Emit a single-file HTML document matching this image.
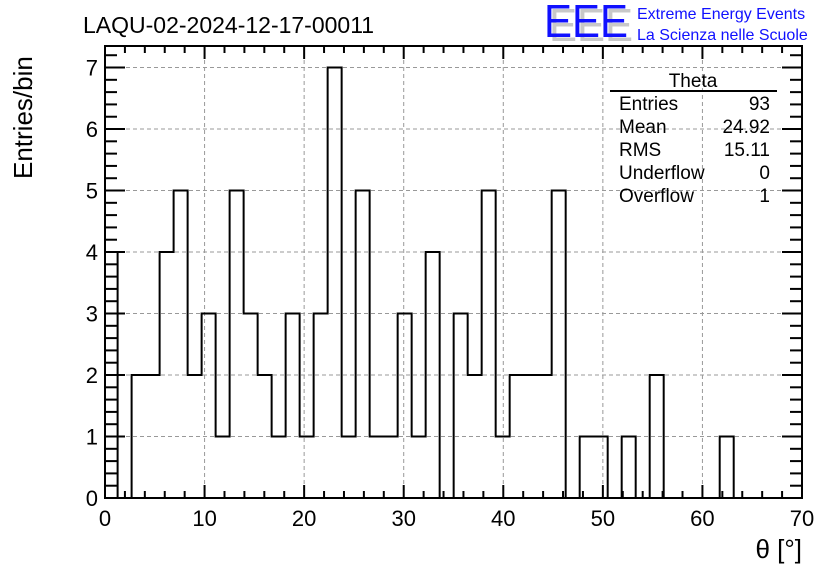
<!DOCTYPE html>
<html><head><meta charset="utf-8"><style>
body{margin:0;background:#fff;}
svg{display:block;font-family:"Liberation Sans",sans-serif;}
</style></head><body>
<svg id="chart" width="836" height="572" xmlns="http://www.w3.org/2000/svg">
<rect width="836" height="572" fill="#fff"/>
<text x="83" y="33" font-size="23">LAQU-02-2024-12-17-00011</text>
<g>
<text x="549" y="41" font-size="46" fill="#c8c8c8" textLength="84" lengthAdjust="spacingAndGlyphs">EEE</text>
<text x="544" y="37" font-size="46" fill="#1010ff" textLength="84" lengthAdjust="spacingAndGlyphs">EEE</text>
<text x="637" y="19" font-size="16" fill="#1010ff">Extreme Energy Events</text>
<text x="637" y="40" font-size="16" fill="#1010ff">La Scienza nelle Scuole</text>
</g>
<g id="grid"></g>
<g id="hist"></g>
<g id="axes"></g>
<text transform="translate(32,179) rotate(-90)" font-size="26">Entries/bin</text>
<text x="802" y="558" font-size="26" text-anchor="end">θ [°]</text>
<g font-size="19">
<text x="693" y="87" text-anchor="middle">Theta</text>
<line x1="610" y1="91" x2="777" y2="91" stroke="#000" stroke-width="2"/>
<text x="619" y="110">Entries</text><text x="770" y="110" text-anchor="end">93</text>
<text x="619" y="133">Mean</text><text x="770" y="133" text-anchor="end">24.92</text>
<text x="619" y="156">RMS</text><text x="770" y="156" text-anchor="end">15.11</text>
<text x="619" y="179">Underflow</text><text x="770" y="179" text-anchor="end">0</text>
<text x="619" y="202">Overflow</text><text x="770" y="202" text-anchor="end">1</text>
</g>
</svg>
<script>
const counts=[4,0,2,2,4,5,2,3,1,5,3,2,1,3,1,3,7,1,5,1,1,3,1,4,0,3,2,5,1,2,2,2,5,0,1,1,0,1,0,2,0,0,0,0,1];
const binStart=-0.14, binWidth=1.40625;
const xTicks=[0,10,20,30,40,50,60,70];
const yTicks=[0,1,2,3,4,5,6,7];
const L=105,R=802,T=46,B=498;
const xmin=0,xmax=70,ymin=0,ymax=7.35;
const X=v=>L+(v-xmin)/(xmax-xmin)*(R-L);
const Y=v=>B-(v-ymin)/(ymax-ymin)*(B-T);
const NS="http://www.w3.org/2000/svg";
function mk(tag,attrs,parent){const e=document.createElementNS(NS,tag);for(const k in attrs)e.setAttribute(k,attrs[k]);parent.appendChild(e);return e;}
const grid=document.getElementById('grid'),hist=document.getElementById('hist'),axes=document.getElementById('axes');
xTicks.forEach(t=>{if(t>xmin&&t<xmax){const l=mk('line',{x1:X(t),x2:X(t),y1:T,y2:B,stroke:'#999','stroke-dasharray':'4,3','stroke-width':1},grid);}});
yTicks.forEach(t=>{if(t>ymin){const l=mk('line',{x1:L,x2:R,y1:Y(t),y2:Y(t),stroke:'#999','stroke-dasharray':'4,3','stroke-width':1},grid);}});
let d='M'+Math.max(L,X(binStart))+','+Y(0);
counts.forEach((c,i)=>{const x0=Math.max(L,X(binStart+i*binWidth)),x1=X(binStart+(i+1)*binWidth);d+=' L'+x0+','+Y(c)+' L'+x1+','+Y(c);});
d+=' L'+X(binStart+counts.length*binWidth)+','+Y(0);
const p=mk('path',{d:d,fill:'none',stroke:'#000','stroke-width':2},hist);


const fr=mk('rect',{x:L,y:T,width:R-L,height:B-T,fill:'none',stroke:'#000','stroke-width':2},axes);


for(let v=xmin;v<=xmax+0.001;v+=2){const maj=Math.abs(v%10)<0.001;const len=maj?13:7;
mk('line',{x1:X(v),x2:X(v),y1:B,y2:B-len,stroke:'#000','stroke-width':2},axes);
mk('line',{x1:X(v),x2:X(v),y1:T,y2:T+len,stroke:'#000','stroke-width':2},axes);}
for(let v=ymin;v<=ymax+0.001;v+=0.2){const maj=Math.abs(v-Math.round(v))<0.001;const len=maj?20:12;
mk('line',{x1:L,x2:L+len,y1:Y(v),y2:Y(v),stroke:'#000','stroke-width':2},axes);
mk('line',{x1:R,x2:R-len,y1:Y(v),y2:Y(v),stroke:'#000','stroke-width':2},axes);}
xTicks.forEach(t=>{const e=mk('text',{x:X(t),y:526,'font-size':22,'text-anchor':'middle'},axes);e.textContent=t;

});
yTicks.forEach(t=>{const e=mk('text',{x:98,y:Y(t)+8,'font-size':22,'text-anchor':'end'},axes);e.textContent=t;

});
</script>
</body></html>
